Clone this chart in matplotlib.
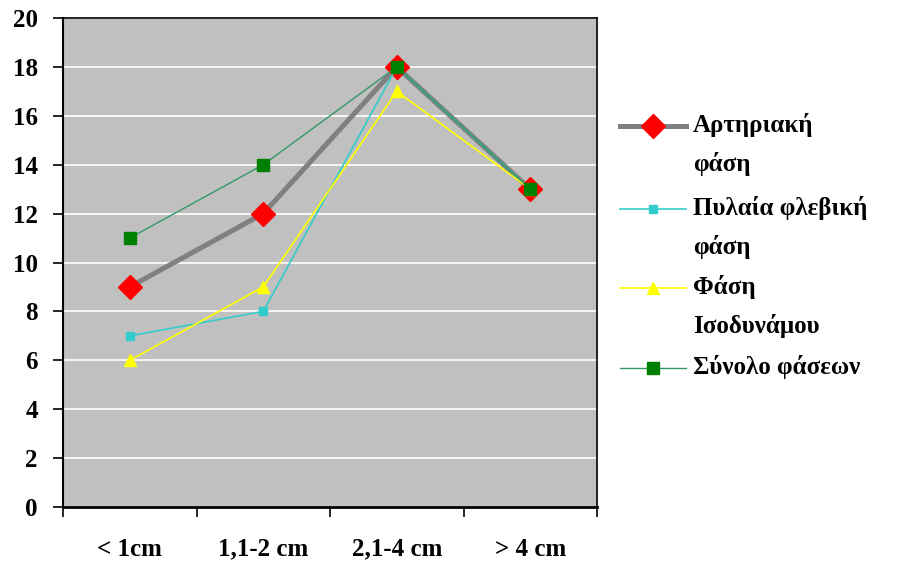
import matplotlib
matplotlib.use('Agg')
import matplotlib.pyplot as plt
from matplotlib.lines import Line2D

categories = ['< 1cm', '1,1-2 cm', '2,1-4 cm', '> 4 cm']
arterial = [9, 12, 18, 13]
portal = [7, 8, 18, 13]
equilibrium = [6, 9, 17, 13]
total = [11, 14, 18, 13]

labels = ['Αρτηριακή\nφάση', 'Πυλαία φλεβική\nφάση', 'Φάση\nΙσοδυνάμου', 'Σύνολο φάσεων']

FONT = 'Liberation Serif'
W, H = 908, 567


def px(x, y):
    return x / W, 1 - y / H


def main():
    fig = plt.figure(figsize=(9.08, 5.67), dpi=100)
    ax = fig.add_axes([63 / W, 1 - 507 / H, (597 - 63) / W, (507 - 18) / H])
    ax.set_facecolor('#C0C0C0')

    x = list(range(len(categories)))
    styles = [
        dict(color='#808080', lw=3.6, marker='D', ms=12, mfc='#FF0000', mec='#FF0000'),
        dict(color='#33CCCC', lw=1.2, marker='s', ms=6, mfc='#33CCCC', mec='#33CCCC'),
        dict(color='#FFFF00', lw=1.2, marker='^', ms=8, mfc='#FFFF00', mec='#FFFF00'),
        dict(color='#339966', lw=1.0, marker='s', ms=8.5, mfc='#008000', mec='#008000'),
    ]
    for values, st in zip([arterial, portal, equilibrium, total], styles):
        ax.plot(x, values, zorder=3, **st)

    ax.set_xlim(-0.5, 3.5)
    ax.set_ylim(0, 20)
    ax.set_yticks(range(0, 21, 2))
    ax.yaxis.grid(True, color='white', lw=1.2)
    ax.set_axisbelow(True)
    for s in ax.spines.values():
        s.set_color('black')
        s.set_linewidth(1.2)
    ax.spines['left'].set_linewidth(1.5)
    ax.spines['bottom'].set_linewidth(2)

    ax.set_xticks(x)
    ax.set_xticklabels(categories)
    ax.set_xticks([-0.5, 0.5, 1.5, 2.5, 3.5], minor=True)
    ax.tick_params(axis='x', which='major', length=0, pad=22)
    ax.tick_params(axis='x', which='minor', length=7, width=1.2, direction='out')
    ax.tick_params(axis='y', length=7, width=1.2, direction='out', pad=11)
    for lab in ax.get_xticklabels() + ax.get_yticklabels():
        lab.set_fontfamily(FONT)
        lab.set_fontweight('bold')
        lab.set_fontsize(18)

    # legend drawn by hand so markers line up with the first text line
    rows = [126, 209, 288, 368]
    for st, label, y in zip(styles, labels, rows):
        (x0, yf), (x1, _) = px(620, y), px(686, y)
        fig.add_artist(Line2D([x0, x1], [yf, yf], color=st['color'], lw=st['lw'],
                              transform=fig.transFigure))
        fig.add_artist(Line2D([(x0 + x1) / 2], [yf], marker=st['marker'], ms=st['ms'],
                              mfc=st['mfc'], mec=st['mec'], transform=fig.transFigure))
        tx, ty = px(693, y)
        fig.text(tx, ty + 13 / H, label, family=FONT, fontweight='bold', fontsize=18,
                 va='top', ha='left', linespacing=1.8)

    fig.savefig('out.png', dpi=100)


if __name__ == '__main__':
    main()
